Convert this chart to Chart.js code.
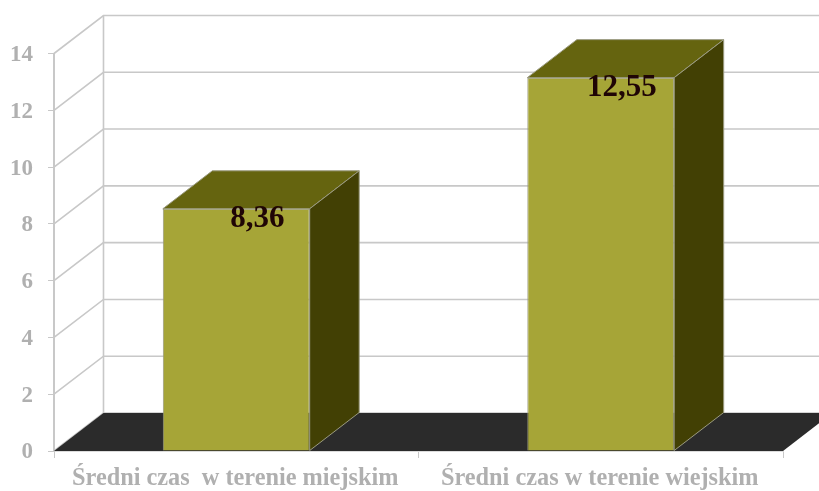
<!DOCTYPE html>
<html>
<head>
<meta charset="utf-8">
<title>Średni czas</title>
<script src="https://cdn.jsdelivr.net/npm/chart.js@4"></script>
<style>
    html, body { margin: 0; padding: 0; background: #fff; }
    canvas { display: block; }
</style>
</head>
<body>
<canvas id="time-chart" width="819" height="491"></canvas>
<script>
const categories = ['Średni czas  w terenie miejskim', 'Średni czas w terenie wiejskim'];
// printed on the bars
const valueLabels = ['8,36', '12,55'];
// bar heights as read against the axis; the picture draws them a bit taller than the printed values
const barHeights = [8.53, 13.15];
const yTicks = [0, 2, 4, 6, 8, 10, 12, 14];

const depthX = 49.5;
const depthY = 38;
const gridColor = '#c8c8c8';
const tickColor = '#b0b0b0';
const edgeColor = '#9a9a80';

const fake3d = {
    id: 'fake3d',
    beforeDatasetsDraw(chart) {
        const ctx = chart.ctx;
        const {left, right} = chart.chartArea;
        const y = chart.scales.y;
        const canvasRight = chart.width + depthX;

        ctx.save();
        ctx.strokeStyle = gridColor;
        ctx.lineWidth = 1.6;
        yTicks.forEach(tick => {
            const py = y.getPixelForValue(tick);
            ctx.beginPath();
            ctx.moveTo(left, py);
            ctx.lineTo(left + depthX, py - depthY);
            ctx.lineTo(canvasRight, py - depthY);
            ctx.stroke();
        });
        ctx.beginPath();
        ctx.moveTo(left + depthX, y.getPixelForValue(0) - depthY);
        ctx.lineTo(left + depthX, y.getPixelForValue(14) - depthY);
        ctx.stroke();

        // floor
        const base = y.getPixelForValue(0);
        ctx.fillStyle = '#2b2b2b';
        ctx.beginPath();
        ctx.moveTo(left, base);
        ctx.lineTo(right, base);
        ctx.lineTo(right + depthX, base - depthY);
        ctx.lineTo(left + depthX, base - depthY);
        ctx.closePath();
        ctx.fill();
        ctx.restore();
    },
    afterDatasetsDraw(chart) {
        const ctx = chart.ctx;
        ctx.save();
        chart.getDatasetMeta(0).data.forEach((bar, i) => {
            const x0 = bar.x - bar.width / 2;
            const x1 = bar.x + bar.width / 2;

            ctx.strokeStyle = edgeColor;
            ctx.lineWidth = 1;

            // top
            ctx.fillStyle = '#65640f';
            ctx.beginPath();
            ctx.moveTo(x0, bar.y);
            ctx.lineTo(x1, bar.y);
            ctx.lineTo(x1 + depthX, bar.y - depthY);
            ctx.lineTo(x0 + depthX, bar.y - depthY);
            ctx.closePath();
            ctx.fill();
            ctx.stroke();

            // side
            ctx.fillStyle = '#424004';
            ctx.beginPath();
            ctx.moveTo(x1, bar.y);
            ctx.lineTo(x1 + depthX, bar.y - depthY);
            ctx.lineTo(x1 + depthX, bar.base - depthY);
            ctx.lineTo(x1, bar.base);
            ctx.closePath();
            ctx.fill();
            ctx.stroke();

            // value label
            ctx.fillStyle = '#1f0505';
            ctx.font = 'bold 31px "Liberation Serif"';
            ctx.textAlign = 'center';
            ctx.textBaseline = 'middle';
            ctx.fillText(valueLabels[i], bar.x + 21, bar.y + 10);
        });
        ctx.restore();
    }
};

new Chart(document.getElementById('time-chart'), {
    type: 'bar',
    data: {
        labels: categories,
        datasets: [{
            data: barHeights,
            backgroundColor: '#a6a537',
            borderColor: edgeColor,
            borderWidth: 1,
            categoryPercentage: 1,
            barPercentage: 0.403
        }]
    },
    plugins: [fake3d],
    options: {
        responsive: false,
        animation: false,
        layout: {padding: {top: 53.5, right: 36, left: 0, bottom: 0}},
        plugins: {legend: {display: false}, tooltip: {enabled: false}},
        scales: {
            x: {
                afterFit: scale => { scale.height = 40; },
                border: {color: '#dcdcdc', width: 2},
                grid: {drawOnChartArea: false, color: gridColor, tickLength: 7, lineWidth: 1},
                ticks: {
                    color: tickColor,
                    maxRotation: 0,
                    autoSkip: false,
                    padding: 6,
                    labelOffset: -1,
                    font: {family: '"Liberation Serif"', size: 24.3, weight: 'bold'}
                }
            },
            y: {
                min: 0,
                max: 14,
                afterFit: scale => { scale.width = 54; },
                afterBuildTicks: scale => { scale.ticks = yTicks.map(value => ({value})); },
                border: {color: gridColor, width: 2},
                grid: {drawOnChartArea: false, color: gridColor, tickLength: 6, lineWidth: 1},
                ticks: {
                    color: tickColor,
                    padding: 15,
                    labelOffset: 1.5,
                    font: {family: '"Liberation Serif"', size: 23, weight: 'bold'}
                }
            }
        }
    }
});
</script>
</body>
</html>
